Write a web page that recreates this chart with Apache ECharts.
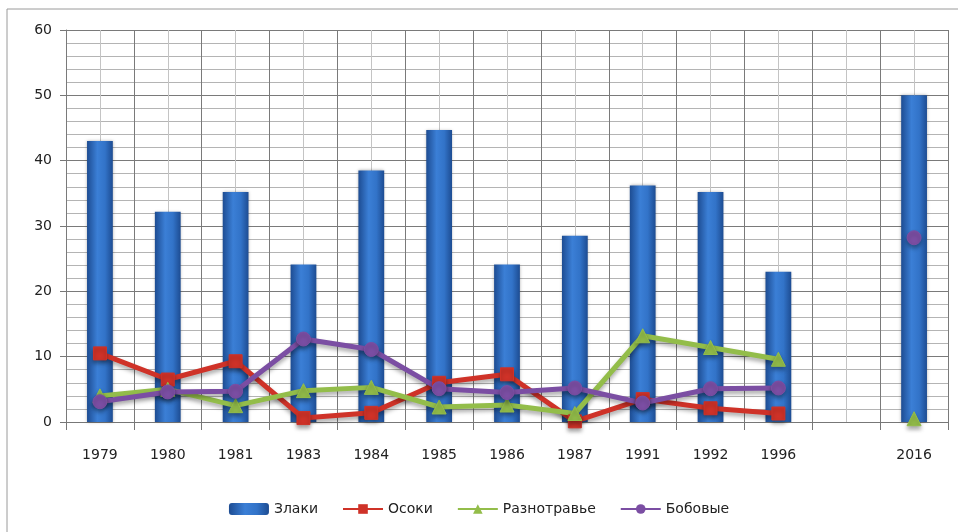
<!DOCTYPE html>
<html>
<head>
<meta charset="utf-8">
<script src="https://cdn.jsdelivr.net/npm/echarts@6/dist/echarts.min.js"></script>
<style>
  html, body { margin: 0; padding: 0; background: #fff; }
  #chart { width: 958px; height: 532px; }
</style>
</head>
<body>
<div id="chart"></div>
<script>
// years on the axis (one empty slot between 1996 and 2016)
const years = ["1979", "1980", "1981", "1983", "1984", "1985", "1986", "1987", "1991", "1992", "1996", "", "2016"];

const zlaki = [43, 32.2, 35.2, 24.1, 38.5, 44.7, 24.1, 28.5, 36.2, 35.2, 23, null, 50];
const osoki = [10.5, 6.5, 9.3, 0.6, 1.4, 6, 7.3, 0.1, 3.5, 2.1, 1.3, null, null];
const raznotravie = [4, 5, 2.5, 4.8, 5.3, 2.3, 2.6, 1.3, 13.2, 11.4, 9.6, null, 0.5];
const bobovye = [3.1, 4.6, 4.7, 12.7, 11.1, 5.1, 4.5, 5.2, 2.9, 5.1, 5.2, null, 28.2];

const yTicks = { min: 0, max: 60, step: 10 };

const chart = echarts.init(document.getElementById("chart"));

const lineShadow = {
  shadowBlur: 4,
  shadowColor: "rgba(0,0,0,0.35)",
  shadowOffsetY: 3,
};

function lineSeries(name, data, color, symbol, size) {
  return {
    name: name,
    type: "line",
    data: data,
    connectNulls: false,
    symbol: symbol,
    symbolSize: size,
    lineStyle: Object.assign({ color: color, width: 5 }, lineShadow),
    itemStyle: Object.assign({ color: color, borderColor: color }, lineShadow),
    z: 3,
  };
}

const option = {
  animation: false,
  textStyle: { fontFamily: "DejaVu Sans, sans-serif" },
  graphic: [
    {
      type: "rect",
      shape: { x: 7, y: 9, width: 960, height: 540 },
      style: { fill: null, stroke: "#9a9a9a", lineWidth: 1 },
      silent: true,
      z: -10,
    },
  ],
  grid: { left: 66, right: 10, top: 30, bottom: 110 },
  legend: {
    bottom: 11,
    left: "center",
    itemWidth: 40,
    itemHeight: 12,
    itemGap: 24,
    textStyle: { fontSize: 14, color: "#222" },
    data: ["Злаки", "Осоки", "Разнотравье", "Бобовые"],
  },
  xAxis: [
    {
      type: "category",
      data: years,
      boundaryGap: true,
      axisLine: { lineStyle: { color: "#777" } },
      axisTick: { show: true, length: 8, lineStyle: { color: "#777" } },
      axisLabel: { fontSize: 14, color: "#222", margin: 26 },
      splitLine: { show: true, lineStyle: { color: "#7a7a7a" } },
      z: 2,
    },
    {
      type: "value",
      min: 0,
      max: years.length * 2,
      interval: 1,
      show: true,
      position: "top",
      axisLine: { show: false },
      axisTick: { show: false },
      axisLabel: { show: false },
      splitLine: { show: true, lineStyle: { color: "#c4c4c4" } },
    },
  ],
  yAxis: {
    type: "value",
    min: yTicks.min,
    max: yTicks.max,
    interval: yTicks.step,
    axisLine: { show: true, lineStyle: { color: "#777" } },
    axisTick: { show: true, length: 6, lineStyle: { color: "#777" } },
    axisLabel: { fontSize: 14, color: "#222", margin: 14 },
    splitLine: { show: true, lineStyle: { color: "#7a7a7a" } },
    minorTick: { show: false, splitNumber: 5 },
    minorSplitLine: { show: true, lineStyle: { color: "#b4b4b4" } },
  },
  series: [
    {
      name: "Злаки",
      type: "bar",
      data: zlaki,
      barWidth: "38%",
      itemStyle: {
        color: new echarts.graphic.LinearGradient(0, 0, 1, 0, [
          { offset: 0, color: "#1d4c92" },
          { offset: 0.4, color: "#3b7fd6" },
          { offset: 0.7, color: "#3273c8" },
          { offset: 1, color: "#1d4c92" },
        ]),
        shadowBlur: 3,
        shadowColor: "rgba(0,0,0,0.3)",
      },
      z: 2,
    },
    lineSeries("Осоки", osoki, "#cf3228", "rect", 13),
    lineSeries("Разнотравье", raznotravie, "#93bd4a", "triangle", 14),
    lineSeries("Бобовые", bobovye, "#7b4ea3", "circle", 14),
  ],
};

chart.setOption(option);
</script>
</body>
</html>
